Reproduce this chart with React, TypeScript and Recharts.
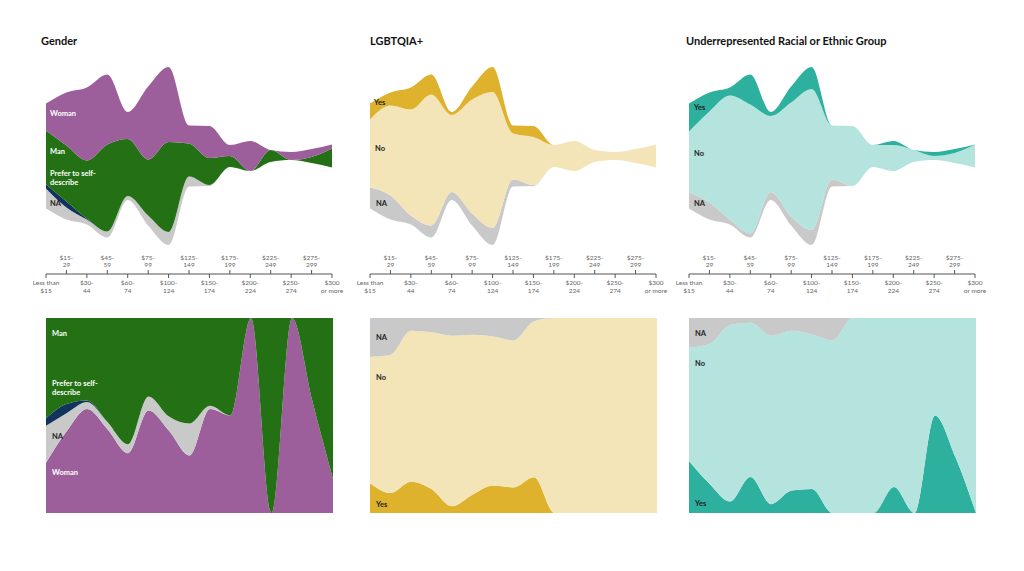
import React from 'react';
import { AreaChart, Area, XAxis, YAxis } from 'recharts';

const CATEGORIES = [
  'Less than $15', '$15-29', '$30-44', '$45-59', '$60-74', '$75-99', '$100-124', '$125-149',
  '$150-174', '$175-199', '$200-224', '$225-249', '$250-274', '$275-299', '$300 or more',
];
const TICK_LINE1 = ['Less than', '$15-', '$30-', '$45-', '$60-', '$75-', '$100-', '$125-', '$150-', '$175-', '$200-', '$225-', '$250-', '$275-', '$300'];
const TICK_LINE2 = ['$15', '29', '44', '59', '74', '99', '124', '149', '174', '199', '224', '249', '274', '299', 'or more'];

// respondents per income bracket
const G_WOMAN = [27, 53, 73, 70, 27, 73, 75, 18, 32, 11, 30, 0, 8, 8, 4];
const G_MAN = [54, 56, 58, 87, 57, 56, 90, 33, 27, 11, 0, 12, 0, 6, 19];
const G_SELF = [4, 6, 1, 0, 0, 0, 0, 0, 0, 0, 0, 0, 0, 0, 0];
const G_NA = [20, 12, 5, 6, 4, 10, 13, 10, 1, 0, 0, 0, 0, 0, 0];

const L_YES = [16, 13, 22, 20, 3, 13, 25, 8, 11, 0, 0, 0, 0, 0, 0];
const L_NO = [68, 90, 106, 131, 77, 114, 136, 46, 48, 22, 30, 12, 8, 14, 23];
const L_NA = [21, 24, 9, 12, 8, 12, 17, 7, 1, 0, 0, 0, 0, 0, 0];

const R_YES = [28, 19, 8, 30, 4, 16, 22, 0, 0, 0, 4, 0, 4, 4, 0];
const R_NO = [61, 91, 124, 129, 76, 114, 141, 54, 60, 22, 26, 12, 4, 10, 23];
const R_NA = [16, 17, 5, 4, 8, 9, 15, 7, 0, 0, 0, 0, 0, 0, 0];

const PURPLE = '#9c5f9b';
const GREEN = '#237114';
const NAVY = '#12335c';
const GRAY = '#c9c9c9';
const GOLD = '#deb22c';
const CREAM = '#f3e5b7';
const TEAL = '#2eb09f';
const MINT = '#b5e4df';

const FONT = 'Lato, "Open Sans", sans-serif';

const gender = CATEGORIES.map((label, i) => ({ label, woman: G_WOMAN[i], man: G_MAN[i], self: G_SELF[i], na: G_NA[i] }));
const lgbt = CATEGORIES.map((label, i) => ({ label, yes: L_YES[i], no: L_NO[i], na: L_NA[i] }));
const race = CATEGORIES.map((label, i) => ({ label, yes: R_YES[i], no: R_NO[i], na: R_NA[i] }));

type Series = { key: string; color: string };

function IncomeTick(props: any) {
  const { x, y, index } = props;
  const up = index % 2 === 1;
  return (
    <g>
      <line x1={x} x2={x} y1={y} y2={up ? y - 4 : y + 4} stroke="#555" strokeWidth={1} />
      <text x={x} y={up ? y - 14.5 : y + 11} textAnchor="middle" fontSize={6.5} fill="#666" fontFamily={FONT}>{TICK_LINE1[index]}</text>
      <text x={x} y={up ? y - 7 : y + 18.5} textAnchor="middle" fontSize={6.5} fill="#666" fontFamily={FONT}>{TICK_LINE2[index]}</text>
    </g>
  );
}

function Stream({ data, series, left }: { data: any[]; series: Series[]; left: number }) {
  return (
    <div style={{ position: 'absolute', left, top: 60 }}>
      <AreaChart width={318} height={244} data={data} stackOffset="silhouette" margin={{ top: 0, right: 16, bottom: 0, left: 16 }}>
        <XAxis dataKey="label" interval={0} tickSize={0} tickMargin={0} tickLine={false} axisLine={{ stroke: '#555' }} tick={<IncomeTick />} height={30} />
        <YAxis hide domain={[-118, 96]} allowDataOverflow />
        {series.map((s) => (
          <Area key={s.key} dataKey={s.key} stackId="1" type="monotone" stroke="none" fill={s.color} fillOpacity={1} isAnimationActive={false} />
        ))}
      </AreaChart>
    </div>
  );
}

function Share({ data, series, left }: { data: any[]; series: Series[]; left: number }) {
  return (
    <div style={{ position: 'absolute', left, top: 318 }}>
      <AreaChart width={287} height={195} data={data} stackOffset="expand" margin={{ top: 0, right: 0, bottom: 0, left: 0 }}>
        <XAxis dataKey="label" hide />
        <YAxis hide domain={[0, 1]} />
        {series.map((s) => (
          <Area key={s.key} dataKey={s.key} stackId="1" type="monotone" stroke="none" fill={s.color} fillOpacity={1} isAnimationActive={false} />
        ))}
      </AreaChart>
    </div>
  );
}

const LABELS: { x: number; y: number; t: string; c: string }[] = [
  { x: 50, y: 115.5, t: 'Woman', c: '#fff' },
  { x: 50, y: 154, t: 'Man', c: '#fff' },
  { x: 50, y: 176, t: 'Prefer to self-', c: '#fff' },
  { x: 50, y: 185, t: 'describe', c: '#fff' },
  { x: 50, y: 205.5, t: 'NA', c: '#222' },
  { x: 374, y: 104.5, t: 'Yes', c: '#222' },
  { x: 375, y: 150.5, t: 'No', c: '#222' },
  { x: 376, y: 206, t: 'NA', c: '#222' },
  { x: 694, y: 109.5, t: 'Yes', c: '#222' },
  { x: 694, y: 156, t: 'No', c: '#222' },
  { x: 694, y: 206, t: 'NA', c: '#222' },
  { x: 52, y: 336, t: 'Man', c: '#fff' },
  { x: 52, y: 386, t: 'Prefer to self-', c: '#fff' },
  { x: 52, y: 395, t: 'describe', c: '#fff' },
  { x: 52, y: 439, t: 'NA', c: '#222' },
  { x: 52, y: 475, t: 'Woman', c: '#fff' },
  { x: 376, y: 340, t: 'NA', c: '#222' },
  { x: 376, y: 379.5, t: 'No', c: '#222' },
  { x: 376, y: 507, t: 'Yes', c: '#222' },
  { x: 695, y: 336, t: 'NA', c: '#222' },
  { x: 695, y: 365.5, t: 'No', c: '#222' },
  { x: 695, y: 505.5, t: 'Yes', c: '#222' },
];

export default function App() {
  return (
    <div style={{ position: 'absolute', left: 0, top: 0, width: 1024, height: 571, background: '#fff', overflow: 'hidden' }}>
      <Stream data={gender} left={30} series={[{ key: 'na', color: GRAY }, { key: 'self', color: NAVY }, { key: 'man', color: GREEN }, { key: 'woman', color: PURPLE }]} />
      <Stream data={lgbt} left={354} series={[{ key: 'na', color: GRAY }, { key: 'no', color: CREAM }, { key: 'yes', color: GOLD }]} />
      <Stream data={race} left={673} series={[{ key: 'na', color: GRAY }, { key: 'no', color: MINT }, { key: 'yes', color: TEAL }]} />
      <Share data={gender} left={46} series={[{ key: 'woman', color: PURPLE }, { key: 'na', color: GRAY }, { key: 'self', color: NAVY }, { key: 'man', color: GREEN }]} />
      <Share data={lgbt} left={370} series={[{ key: 'yes', color: GOLD }, { key: 'no', color: CREAM }, { key: 'na', color: GRAY }]} />
      <Share data={race} left={689} series={[{ key: 'yes', color: TEAL }, { key: 'no', color: MINT }, { key: 'na', color: GRAY }]} />
      <svg width={1024} height={571} style={{ position: 'absolute', left: 0, top: 0, pointerEvents: 'none' }}>
        <g fontFamily={FONT} fontWeight={700}>
          <text x={41} y={44.5} fontSize={11} fill="#111">Gender</text>
          <text x={370} y={44.5} fontSize={11} fill="#111">LGBTQIA+</text>
          <text x={686} y={44.5} fontSize={11} fill="#111">Underrepresented Racial or Ethnic Group</text>
          {LABELS.map((l, i) => (
            <text key={i} x={l.x} y={l.y} fontSize={7.5} fill={l.c}>{l.t}</text>
          ))}
        </g>
      </svg>
    </div>
  );
}
